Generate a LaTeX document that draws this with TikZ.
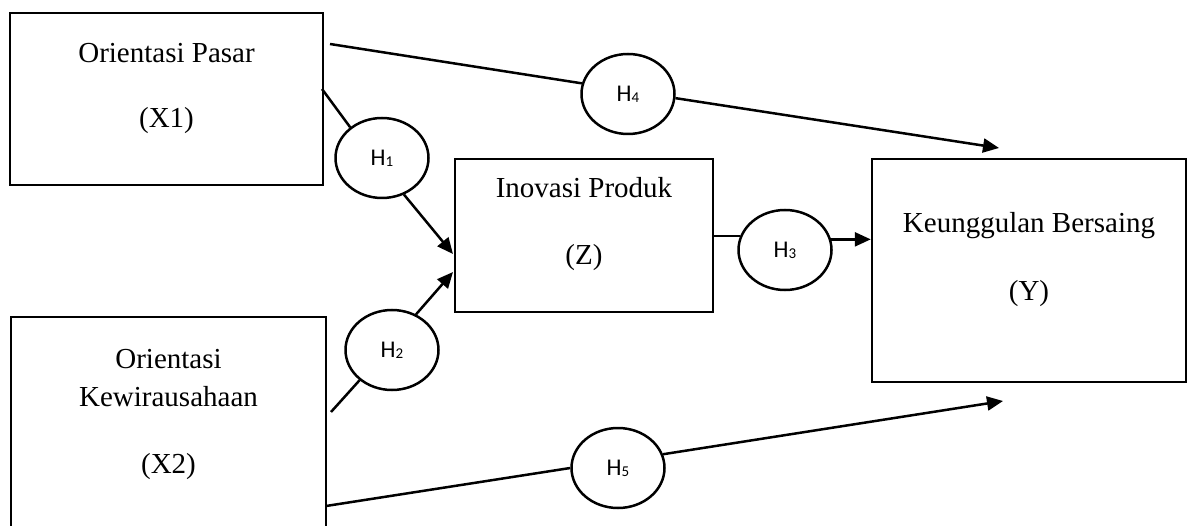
\documentclass[tikz,border=0pt]{standalone}
\usepackage{fontspec}
\setmainfont{Liberation Serif}
\newfontfamily\hfont{Carlito}
\usetikzlibrary{arrows.meta,shapes.geometric}
\newcommand{\hlab}[1]{{\hfont\fontsize{24}{28}\selectfont H\raisebox{-1pt}{\fontsize{15}{15}\selectfont #1}}}
\begin{document}
\begin{tikzpicture}[x=1pt,y=-1pt,
  box/.style={draw,line width=2.5pt,inner sep=0pt},
  btext/.style={font=\fontsize{29}{34}\selectfont,anchor=base,inner sep=0pt},
  hyp/.style={draw,ellipse,line width=2.5pt,minimum width=93pt,minimum height=80pt,inner sep=0pt},
  ln/.style={line width=2.5pt},
  arr/.style={line width=2.5pt,-{Triangle[length=16pt,width=14pt]}}]
\clip (0,0) rectangle (1193,526);
% boxes
\node[box,minimum width=313pt,minimum height=172pt] (X1) at (166.5,99) {};
\node[box,minimum width=258pt,minimum height=153pt] (Z) at (584,235.5) {};
\node[box,minimum width=314pt,minimum height=223pt] (Y) at (1029,270.5) {};
\node[box,minimum width=315pt,minimum height=230pt] (X2) at (168.5,432) {};
% texts
\node[btext] (tx1a) at (166.5,63) {Orientasi Pasar};
\node[btext] (tx1b) at (166.5,128) {(X1)};
\node[btext] (tza) at (584,198) {Inovasi Produk};
\node[btext] (tzb) at (584,265) {(Z)};
\node[btext] (tya) at (1029,233) {Keunggulan Bersaing};
\node[btext] (tyb) at (1029,301) {(Y)};
\node[btext] (tx2a) at (168.5,368) {Orientasi};
\node[btext] (tx2b) at (168.5,406) {Kewirausahaan};
\node[btext] (tx2c) at (168.5,473) {(X2)};
% hypotheses
\node[hyp] (H1) at (382,158) {\hlab{1}};
\node[hyp] (H4) at (628,94) {\hlab{4}};
\node[hyp] (H3) at (785,250) {\hlab{3}};
\node[hyp] (H2) at (392,350) {\hlab{2}};
\node[hyp] (H5) at (618,468) {\hlab{5}};
% free ends
\coordinate (h4s) at (330,44);
\coordinate (h4e) at (999,148);
\coordinate (h1s) at (322,89);
\coordinate (h1e) at (453,254);
\coordinate (h2s) at (331,412);
\coordinate (h2e) at (453,272);
\coordinate (h5s) at (326,506);
\coordinate (h5e) at (1003,401);
% connectors
\draw[ln] (h4s) -- (H4.167);
\draw[arr] (H4.355) -- (h4e);
\draw[ln] (h1s) -- (H1.136);
\draw[arr] (H1.301) -- (h1e);
\draw[ln] (h2s) -- (H2.223);
\draw[arr] (H2.56) -- (h2e);
\draw[ln] (H3.163 -| Z.east) -- (H3.163);
\draw[arr] (H3.13) -- (H3.13 -| Y.west);
\draw[ln] (h5s) -- (H5.west);
\draw[arr] (H5.17) -- (h5e);
\end{tikzpicture}
\end{document}
